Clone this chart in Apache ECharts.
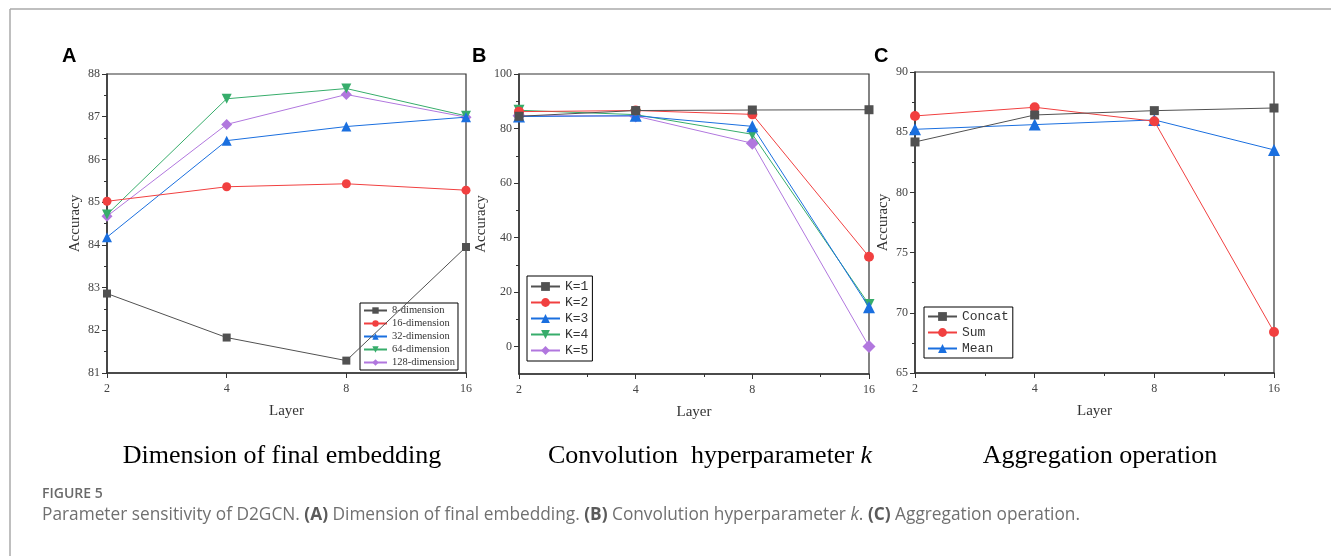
<!DOCTYPE html>
<html>
<head>
<meta charset="utf-8">
<script src="https://cdn.jsdelivr.net/npm/echarts@6/dist/echarts.min.js"></script>
<style>
  html, body { margin: 0; padding: 0; background: #fff; }
  #main { width: 1331px; height: 556px; }
</style>
</head>
<body>
<div id="main"></div>
<script>
// layers on the x axis (log base 2)
const layers = [2, 4, 8, 16];

// panel A: dimension of final embedding
const dimNames = ['8-dimension', '16-dimension', '32-dimension', '64-dimension', '128-dimension'];
const dim8   = [82.86, 81.83, 81.29, 83.95];
const dim16  = [85.02, 85.36, 85.43, 85.28];
const dim32  = [84.18, 86.44, 86.77, 86.99];
const dim64  = [84.71, 87.42, 87.66, 87.02];
const dim128 = [84.67, 86.82, 87.52, 86.99];

// panel B: convolution hyperparameter k
const kNames = ['K=1', 'K=2', 'K=3', 'K=4', 'K=5'];
const k1 = [84.5, 86.6, 86.8, 86.9];
const k2 = [86.2, 86.6, 85.2, 33.0];
const k3 = [84.4, 84.7, 80.8, 14.5];
const k4 = [86.7, 85.1, 77.9, 15.5];
const k5 = [84.7, 84.6, 74.6, 0.1];

// panel C: aggregation operation
const aggNames = ['Concat', 'Sum', 'Mean'];
const concat = [84.19, 86.43, 86.79, 87.01];
const sum    = [86.35, 87.07, 85.91, 68.40];
const mean   = [85.24, 85.63, 86.02, 83.53];

const colors = ['#515151', '#f14040', '#1a6fdf', '#37ad6b', '#b177de'];
const symbols = ['rect', 'circle', 'triangle', 'path://M0,0 L10,0 L5,9 Z', 'diamond'];
const sizeScale = [0.9, 0.95, 1.15, 1.1, 1.25];

const serif = 'Liberation Serif';
const mono = 'Liberation Mono';

function pairs(vals) {
    return vals.map((v, i) => [layers[i], v]);
}

function xAxisFor(idx, minor) {
    return {
        type: 'log', logBase: 2, min: 2, max: 16, gridIndex: idx,
        name: 'Layer', nameLocation: 'middle', nameGap: 31,
        nameTextStyle: { fontFamily: serif, fontSize: 15, color: '#333' },
        axisLine: { onZero: false, lineStyle: { color: '#333', width: 1.5 } },
        axisTick: { show: true, length: 5, lineStyle: { color: '#333' } },
        minorTick: { show: minor, splitNumber: 2, length: 3, lineStyle: { color: '#333' } },
        axisLabel: { fontFamily: serif, fontSize: 12, color: '#444', margin: 10 },
        splitLine: { show: false },
        minorSplitLine: { show: false }
    };
}

function yAxisFor(idx, min, max, interval, nameGap) {
    return {
        type: 'value', gridIndex: idx, min: min, max: max, interval: interval,
        name: 'Accuracy', nameLocation: 'middle', nameGap: nameGap,
        nameTextStyle: { fontFamily: serif, fontSize: 15, color: '#333' },
        axisLine: { show: true, onZero: false, lineStyle: { color: '#333', width: 1.5 } },
        axisTick: { show: true, length: 5, lineStyle: { color: '#333' } },
        minorTick: { show: true, splitNumber: 2, length: 3, lineStyle: { color: '#333' } },
        axisLabel: { fontFamily: serif, fontSize: 12, color: '#444', margin: 7 },
        splitLine: { show: false }
    };
}

function makeSeries(names, lists, gridIdx, yIdx, size) {
    return names.map((n, i) => ({
        name: n, type: 'line', xAxisIndex: gridIdx, yAxisIndex: yIdx,
        data: pairs(lists[i]),
        symbol: symbols[i], symbolSize: Math.round(size * sizeScale[i]),
        lineStyle: { width: 1, color: colors[i] },
        itemStyle: { color: colors[i] },
        z: 10 - i
    }));
}

const element = document.getElementById('main');
const chart = echarts.init(element);

const bAxisB = yAxisFor(1, -10, 100, 10, 30);
bAxisB.axisLabel.customValues = [0, 20, 40, 60, 80, 100];
bAxisB.axisTick.customValues = [0, 20, 40, 60, 80, 100];
bAxisB.minorTick = { show: false };

let option = {
    animation: false,
    grid: [
        { left: 107, top: 74, width: 359, height: 299, show: true, borderColor: '#333', borderWidth: 1.2 },
        { left: 519, top: 74, width: 350, height: 300, show: true, borderColor: '#333', borderWidth: 1.2 },
        { left: 915, top: 72, width: 359, height: 301, show: true, borderColor: '#333', borderWidth: 1.2 }
    ],
    xAxis: [xAxisFor(0, false), xAxisFor(1, true), xAxisFor(2, true)],
    yAxis: [
        yAxisFor(0, 81, 88, 1, 24),
        bAxisB,
        yAxisFor(2, 65, 90, 5, 24),
        {
            // minor ticks of panel B
            type: 'value', gridIndex: 1, position: 'left', min: -10, max: 100, interval: 10,
            axisLine: { show: false, onZero: false },
            axisLabel: { show: false },
            axisTick: { show: true, length: 3, customValues: [10, 30, 50, 70, 90], lineStyle: { color: '#333' } },
            splitLine: { show: false }
        }
    ],
    legend: [
        {
            data: dimNames, orient: 'vertical', left: 360, top: 303,
            itemWidth: 23, itemHeight: 8, itemGap: 2, padding: [2, 3, 2, 3],
            borderColor: '#000', borderWidth: 1, backgroundColor: '#fff',
            textStyle: { fontFamily: serif, fontSize: 10.5, color: '#333' }
        },
        {
            data: kNames, orient: 'vertical', left: 527, top: 276,
            itemWidth: 29, itemHeight: 11, itemGap: 3, padding: [4, 4, 4, 3],
            borderColor: '#000', borderWidth: 1, backgroundColor: '#fff',
            textStyle: { fontFamily: mono, fontSize: 13, color: '#333' }
        },
        {
            data: aggNames, orient: 'vertical', left: 924, top: 307,
            itemWidth: 29, itemHeight: 11, itemGap: 3, padding: [3, 4, 3, 3],
            borderColor: '#000', borderWidth: 1, backgroundColor: '#fff',
            textStyle: { fontFamily: mono, fontSize: 13, color: '#333' }
        }
    ],
    series: [].concat(
        makeSeries(dimNames, [dim8, dim16, dim32, dim64, dim128], 0, 0, 9),
        makeSeries(kNames, [k1, k2, k3, k4, k5], 1, 1, 10),
        makeSeries(aggNames, [concat, sum, mean], 2, 2, 10)
    ),
    graphic: [
        { type: 'line', shape: { x1: 10, y1: 9, x2: 1331, y2: 9 }, style: { stroke: '#aaa', lineWidth: 1.5 } },
        { type: 'line', shape: { x1: 10, y1: 9, x2: 10, y2: 556 }, style: { stroke: '#aaa', lineWidth: 1.5 } },
        { type: 'text', left: 62, top: 46, style: { text: 'A', font: 'bold 20px "Liberation Sans"', fill: '#000' } },
        { type: 'text', left: 472, top: 46, style: { text: 'B', font: 'bold 20px "Liberation Sans"', fill: '#000' } },
        { type: 'text', left: 874, top: 46, style: { text: 'C', font: 'bold 20px "Liberation Sans"', fill: '#000' } },
        { type: 'text', x: 282, y: 456, style: { text: 'Dimension of final embedding', font: '26px "Liberation Serif"', fill: '#000', align: 'center', verticalAlign: 'middle' } },
        {
            type: 'text', x: 710, y: 456,
            style: {
                text: '{n|Convolution  hyperparameter }{i|k}', align: 'center', verticalAlign: 'middle',
                rich: {
                    n: { font: '26px "Liberation Serif"', fill: '#000' },
                    i: { font: 'italic 26px "Liberation Serif"', fill: '#000' }
                }
            }
        },
        { type: 'text', x: 1100, y: 456, style: { text: 'Aggregation operation', font: '26px "Liberation Serif"', fill: '#000', align: 'center', verticalAlign: 'middle' } },
        { type: 'text', left: 42, top: 487, style: { text: 'FIGURE 5', font: '600 14px "Open Sans"', fill: '#6a6a6a' } },
        {
            type: 'text', left: 42, top: 507,
            style: {
                text: '{t|Parameter sensitivity of D2GCN. }{b|(A)}{t| Dimension of final embedding. }{b|(B)}{t| Convolution hyperparameter }{i|k}{t|. }{b|(C)}{t| Aggregation operation.}',
                rich: {
                    t: { font: '17.3px "Open Sans"', fill: '#707070' },
                    b: { font: 'bold 17.3px "Open Sans"', fill: '#5a5a5a' },
                    i: { font: 'italic 17.3px "Open Sans"', fill: '#707070' }
                }
            }
        }
    ]
};

chart.setOption(option);

window.onresize = function () {
    chart.resize();
};
</script>
</body>
</html>
